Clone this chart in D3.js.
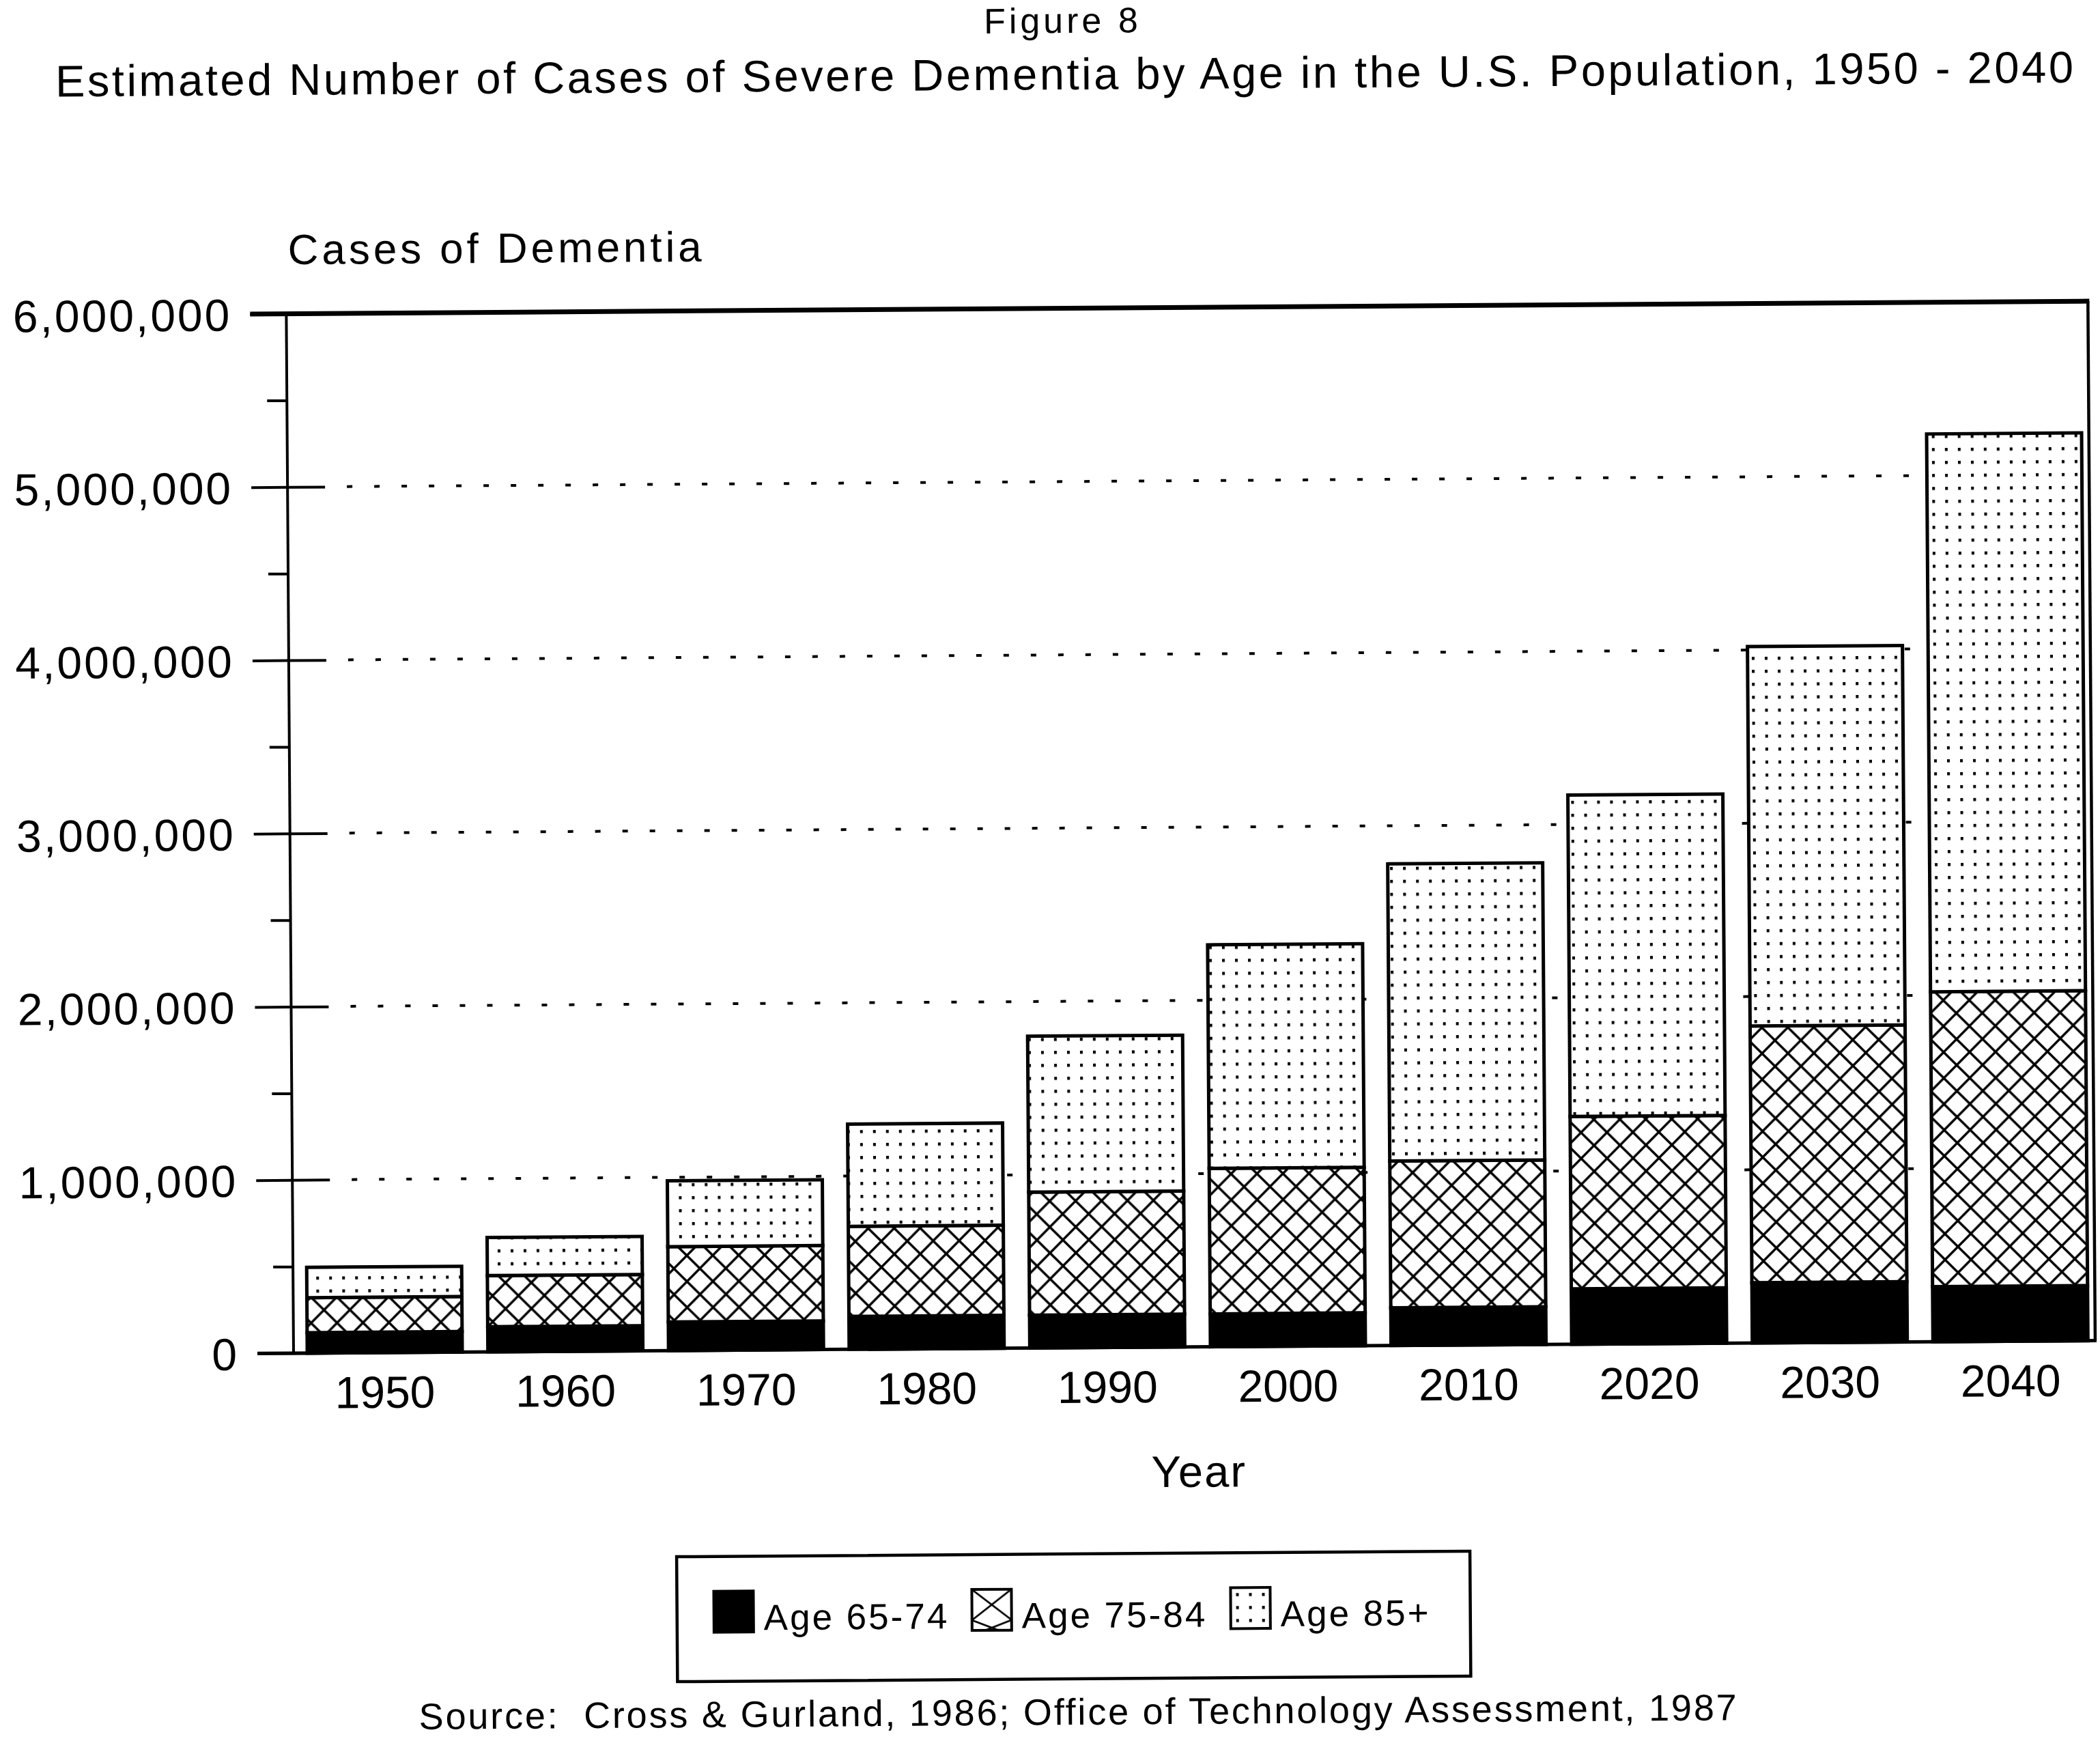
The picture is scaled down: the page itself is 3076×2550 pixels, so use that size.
<!DOCTYPE html>
<html>
<head>
<meta charset="utf-8">
<script src="https://cdn.jsdelivr.net/npm/d3@7/dist/d3.min.js"></script>
<style>
  body { margin: 0; background: #fff; }
  text { font-family: "Liberation Sans", Arial, Helvetica, sans-serif; fill: #000; }
</style>
</head>
<body>
<div id="chart"></div>
<script>
// data (number of cases)
const years = [1950, 1960, 1970, 1980, 1990, 2000, 2010, 2020, 2030, 2040];
const age6574 = [118000, 145000, 165000, 190000, 190000, 190000, 218000, 320000, 348000, 318000];
const age7584 = [202000, 295000, 435000, 520000, 710000, 840000, 847000, 995000, 1482000, 1702000];
const age85plus = [175000, 220000, 380000, 590000, 900000, 1290000, 1715000, 1855000, 2190000, 3220000];
const seriesKeys = ["age6574", "age7584", "age85plus"];
const seriesLabels = ["Age 65-74", "Age 75-84", "Age 85+"];
const yMajorTicks = [0, 1000000, 2000000, 3000000, 4000000, 5000000, 6000000];
const yMinorTicks = [500000, 1500000, 2500000, 3500000, 4500000, 5500000];

// fills per series
const seriesFills = ["#000", "url(#hatch)", "url(#dots)"];

let svg, root, frame, xScale, yScale, stacked;

setUpVariables();
drawPatterns();
drawTexts();
drawGrid();
drawBars();
drawAxes();
drawLegend();

function setUpVariables() {
  frame = {
    width: 3076,
    height: 2550,
    left: 430,
    right: 3069,
    top: 459.5,
    bottom: 1982,
    tilt: -0.4, // the scanned page is slightly rotated
  };

  svg = d3
    .select("#chart")
    .append("svg")
    .attr("width", frame.width)
    .attr("height", frame.height)
    .attr("viewBox", "0 0 " + frame.width + " " + frame.height);

  svg.append("rect").attr("width", frame.width).attr("height", frame.height).attr("fill", "#fff");

  root = svg
    .append("g")
    .attr("transform", "rotate(" + frame.tilt + "," + frame.left + "," + frame.bottom + ")");

  const table = years.map((year, i) => ({
    year: year,
    age6574: age6574[i],
    age7584: age7584[i],
    age85plus: age85plus[i],
  }));
  stacked = d3.stack().keys(seriesKeys)(table);

  xScale = d3
    .scaleBand()
    .domain(years)
    .range([frame.left, frame.right])
    .paddingInner(0.142)
    .paddingOuter(0.058)
    .align(0.654);

  yScale = d3.scaleLinear().domain([0, 6000000]).range([frame.bottom, frame.top]);
}

function drawPatterns() {
  const defs = svg.append("defs");

  // cross hatch for 75-84
  const hatch = defs
    .append("pattern")
    .attr("id", "hatch")
    .attr("patternUnits", "userSpaceOnUse")
    .attr("width", 38)
    .attr("height", 38);
  hatch.append("rect").attr("width", 38).attr("height", 38).attr("fill", "#fff");
  hatch
    .append("path")
    .attr("d", "M-2,-2L40,40M40,-2L-2,40")
    .attr("stroke", "#000")
    .attr("stroke-width", 3.4);

  // dot screen for 85+
  const dots = defs
    .append("pattern")
    .attr("id", "dots")
    .attr("patternUnits", "userSpaceOnUse")
    .attr("width", 19)
    .attr("height", 19);
  dots.append("rect").attr("width", 19).attr("height", 19).attr("fill", "#fff");
  dots
    .append("rect")
    .attr("x", 8)
    .attr("y", 8)
    .attr("width", 4)
    .attr("height", 4.5)
    .attr("fill", "#000");

  // larger hatch used in the legend swatch
  const hatchLegend = defs
    .append("pattern")
    .attr("id", "hatch-legend")
    .attr("patternUnits", "objectBoundingBox")
    .attr("patternContentUnits", "objectBoundingBox")
    .attr("width", 1)
    .attr("height", 1);
  hatchLegend.append("rect").attr("width", 1).attr("height", 1).attr("fill", "#fff");
  hatchLegend
    .append("path")
    .attr("d", "M0,0L1,0.75L0.33,1M1,0L0,0.75L0.67,1")
    .attr("fill", "none")
    .attr("stroke", "#000")
    .attr("stroke-width", 0.045);
}

function drawTexts() {
  root
    .append("text")
    .text("Figure 8")
    .attr("x", 1570)
    .attr("y", 56)
    .attr("font-size", 52)
    .attr("text-anchor", "middle")
    .attr("letter-spacing", 5);

  root
    .append("text")
    .text("Estimated Number of Cases of Severe Dementia by Age in the U.S. Population, 1950 - 2040")
    .attr("x", 1572 - 2956 / 2)
    .attr("y", 139)
    .attr("font-size", 65)
    .attr("textLength", 2956)
    .attr("lengthAdjust", "spacing");

  root
    .append("text")
    .text("Cases of Dementia")
    .attr("x", 433)
    .attr("y", 387)
    .attr("font-size", 62)
    .attr("textLength", 606)
    .attr("lengthAdjust", "spacing");

  root
    .append("text")
    .text("Year")
    .attr("x", 1755)
    .attr("y", 2187)
    .attr("font-size", 65)
    .attr("text-anchor", "middle")
    .attr("letter-spacing", 2);

  root
    .append("text")
    .text("Source:  Cross & Gurland, 1986; Office of Technology Assessment, 1987")
    .attr("x", 610)
    .attr("y", 2534)
    .attr("font-size", 54)
    .attr("textLength", 1930)
    .attr("lengthAdjust", "spacing")
    .attr("xml:space", "preserve");
}

function drawGrid() {
  // dotted lines at each million, starting after the inner tick
  root
    .append("g")
    .attr("id", "grid")
    .selectAll("line")
    .data(yMajorTicks.filter((d) => d > 0 && d < 6000000))
    .enter()
    .append("line")
    .attr("x1", frame.left + 87)
    .attr("x2", frame.right)
    .attr("y1", (d) => yScale(d))
    .attr("y2", (d) => yScale(d))
    .attr("stroke", "#000")
    .attr("stroke-width", 4)
    .attr("stroke-dasharray", "8,32");
}

function drawBars() {
  const layers = root
    .append("g")
    .attr("id", "bars")
    .selectAll("g")
    .data(stacked)
    .enter()
    .append("g")
    .attr("fill", (d, i) => seriesFills[i]);

  layers
    .selectAll("rect")
    .data((d) => d)
    .enter()
    .append("rect")
    .attr("x", (d) => xScale(d.data.year))
    .attr("width", xScale.bandwidth())
    .attr("y", (d) => yScale(d[1]))
    .attr("height", (d) => yScale(d[0]) - yScale(d[1]))
    .attr("stroke", "#000")
    .attr("stroke-width", 5);
}

function drawAxes() {
  // outer major ticks with labels
  const yAxis = root
    .append("g")
    .attr("id", "y-axis")
    .attr("transform", "translate(" + frame.left + ",0)")
    .call(
      d3
        .axisLeft(yScale)
        .tickValues(yMajorTicks)
        .tickSize(53)
        .tickPadding(27)
        .tickFormat(d3.format(","))
    );
  yAxis.select(".domain").remove();
  yAxis.selectAll(".tick line").attr("stroke", "#000").attr("stroke-width", 4);
  yAxis
    .selectAll(".tick text")
    .attr("font-size", 66)
    .attr("letter-spacing", 3)
    .attr("dy", "0.36em")
    .attr("font-family", '"Liberation Sans", Arial, sans-serif');

  // inner part of the major ticks
  const yInner = root
    .append("g")
    .attr("id", "y-inner")
    .attr("transform", "translate(" + frame.left + ",0)")
    .call(d3.axisRight(yScale).tickValues(yMajorTicks).tickSize(55).tickFormat(""));
  yInner.select(".domain").remove();
  yInner.selectAll(".tick line").attr("stroke", "#000").attr("stroke-width", 4);

  // minor ticks
  const yMinor = root
    .append("g")
    .attr("id", "y-minor")
    .attr("transform", "translate(" + frame.left + ",0)")
    .call(d3.axisLeft(yScale).tickValues(yMinorTicks).tickSize(29).tickFormat(""));
  yMinor.select(".domain").remove();
  yMinor.selectAll(".tick line").attr("stroke", "#000").attr("stroke-width", 4);

  // frame: left, top, right, bottom
  const lines = [
    { x1: frame.left, y1: frame.top, x2: frame.left, y2: frame.bottom, w: 4 },
    { x1: frame.left - 53, y1: frame.top, x2: frame.right + 2, y2: frame.top, w: 7 },
    { x1: frame.right, y1: frame.top, x2: frame.right, y2: frame.bottom, w: 4.5 },
    { x1: frame.left - 53, y1: frame.bottom, x2: frame.right + 2, y2: frame.bottom, w: 5 },
  ];
  root
    .append("g")
    .attr("id", "frame")
    .selectAll("line")
    .data(lines)
    .enter()
    .append("line")
    .attr("x1", (d) => d.x1)
    .attr("y1", (d) => d.y1)
    .attr("x2", (d) => d.x2)
    .attr("y2", (d) => d.y2)
    .attr("stroke", "#000")
    .attr("stroke-width", (d) => d.w);

  // year labels
  const xAxis = root
    .append("g")
    .attr("id", "x-axis")
    .attr("transform", "translate(0," + frame.bottom + ")")
    .call(d3.axisBottom(xScale).tickSize(0).tickPadding(34));
  xAxis.select(".domain").remove();
  xAxis
    .selectAll(".tick text")
    .attr("font-size", 66)
    .attr("font-family", '"Liberation Sans", Arial, sans-serif');
}

function drawLegend() {
  const legend = root.append("g").attr("id", "legend");

  legend
    .append("rect")
    .attr("x", 989)
    .attr("y", 2284)
    .attr("width", 1162)
    .attr("height", 183)
    .attr("fill", "none")
    .attr("stroke", "#000")
    .attr("stroke-width", 4.5);

  const swatchX = [1043, 1421, 1800];
  const legendFills = ["#000", "url(#hatch-legend)", "url(#dots)"];

  const items = legend
    .selectAll(".legend-item")
    .data(seriesLabels)
    .enter()
    .append("g")
    .attr("class", "legend-item")
    .attr("transform", (d, i) => "translate(" + swatchX[i] + ",2335)");

  items
    .append("rect")
    .attr("width", 58)
    .attr("height", 60)
    .attr("fill", (d, i) => legendFills[i])
    .attr("stroke", "#000")
    .attr("stroke-width", 4);

  items
    .append("text")
    .text((d) => d)
    .attr("x", 73)
    .attr("y", 57)
    .attr("font-size", 53)
    .attr("letter-spacing", 3);
}
</script>
</body>
</html>
